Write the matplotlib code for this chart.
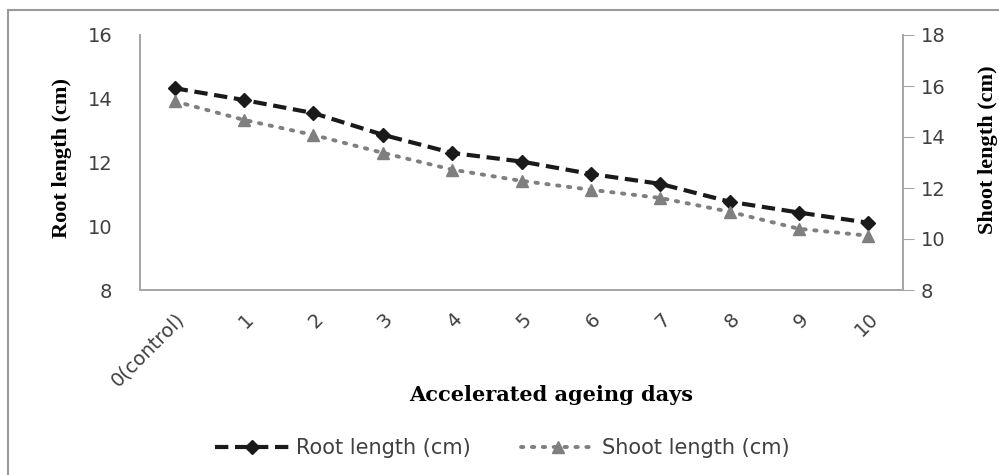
import matplotlib
matplotlib.use("Agg")
import matplotlib.pyplot as plt
from matplotlib.patches import Rectangle

categories = ["0(control)", "1", "2", "3", "4", "5", "6", "7", "8", "9", "10"]
root_length = [14.33, 13.96, 13.55, 12.87, 12.30, 12.03, 11.64, 11.33, 10.77, 10.43, 10.11]
shoot_length = [15.40, 14.67, 14.08, 13.38, 12.72, 12.28, 11.93, 11.61, 11.07, 10.40, 10.13]
left_ticks = [8, 10, 12, 14, 16]
right_ticks = [8, 10, 12, 14, 16, 18]

fig = plt.figure(figsize=(9.99, 4.75), dpi=100)
fig.patches.append(Rectangle((8/999, -0.1), 1.2, 1 - 10/475 + 0.1, transform=fig.transFigure,
                             fill=False, edgecolor="#9a9a9a", linewidth=1.5))

ax = fig.add_axes([140/999, 1 - 290/475, 763/999, 255/475])
ax2 = ax.twinx()

x = list(range(len(categories)))
spine_c = "#a6a6a6"
tick_c = "#404040"
sans = ["DejaVu Sans"]
serif = ["Liberation Serif", "DejaVu Serif"]

l1, = ax.plot(x, root_length, color="#1a1a1a", linestyle=(0, (3.2, 1.6)), linewidth=3,
              marker="D", markersize=7, label="Root length (cm)", zorder=3)
l2, = ax2.plot(x, shoot_length, color="#7f7f7f", linestyle=(0, (0.6, 2.2)), linewidth=2.8,
               dash_capstyle="round", marker="^", markersize=9, label="Shoot length (cm)", zorder=2)

ax.set_xlim(-0.5, len(categories) - 0.5)
ax.set_ylim(8, 16)
ax2.set_ylim(8, 18)
ax.set_yticks(left_ticks)
ax2.set_yticks(right_ticks)
ax.set_xticks(x)
ax.set_xticklabels(categories, rotation=45, ha="right", rotation_mode="anchor",
                   fontsize=14, family=sans, color=tick_c)
ax.tick_params(axis="x", length=0, pad=14)
ax.tick_params(axis="y", length=0, pad=20, labelsize=14, labelcolor=tick_c)
ax2.tick_params(axis="y", length=8, color=spine_c, pad=5, labelsize=14, labelcolor=tick_c)
for lab in ax.get_yticklabels() + ax2.get_yticklabels():
    lab.set_family(sans)

for a in (ax, ax2):
    a.spines["top"].set_visible(False)
    for s in ("left", "right", "bottom"):
        a.spines[s].set_color(spine_c)
        a.spines[s].set_linewidth(1.3)

fig.text(62/999, 1 - 158/475, "Root length (cm)", rotation=90, ha="center", va="center",
         fontsize=16, fontweight="bold", family=serif)
fig.text(988/999, 1 - 150/475, "Shoot length (cm)", rotation=90, ha="center", va="center",
         fontsize=16, fontweight="bold", family=serif)
fig.text(551/999, 1 - 395/475, "Accelerated ageing days", ha="center", va="center",
         fontsize=15, fontweight="bold", family=["DejaVu Serif"])

fig.legend(handles=[l1, l2], loc="center", bbox_to_anchor=(502/999, 1 - 448/475), ncol=2,
           frameon=False, prop={"family": sans, "size": 15}, handlelength=3.6,
           columnspacing=2.4, handletextpad=0.3, labelcolor=tick_c)

fig.savefig("out.png", dpi=100)
